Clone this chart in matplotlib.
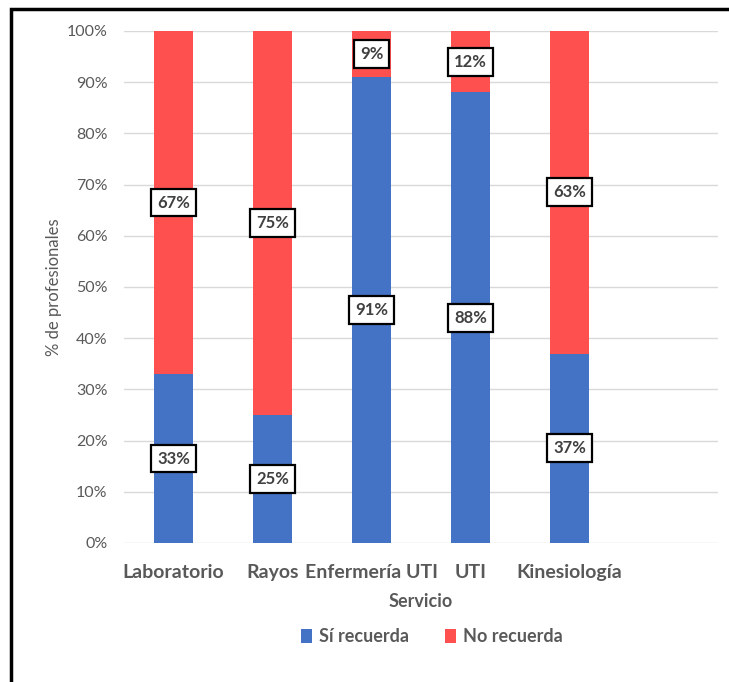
import numpy as np
import matplotlib.pyplot as plt
from matplotlib.patches import Rectangle

# data
servicios = ['Laboratorio', 'Rayos', 'Enfermería UTI', 'UTI', 'Kinesiología']
si_recuerda = [33, 25, 91, 88, 37]
no_recuerda = [67, 75, 9, 12, 63]

plt.rcParams['font.family'] = ['Lato', 'DejaVu Sans']

fig = plt.figure(figsize=(7.29, 6.82), dpi=100)
ax = fig.add_axes([124 / 729, 1 - 543 / 682, 594 / 729, 512 / 682])

x = np.arange(len(servicios))
si = np.array(si_recuerda)
no = np.array(no_recuerda)

ax.bar(x, si, width=0.4, color='#4472C4', label='Sí recuerda', zorder=2)
ax.bar(x, no, width=0.4, bottom=si, color='#FF5050', label='No recuerda', zorder=2)

# data labels in white boxes, centred in each segment
box = dict(boxstyle='square,pad=0.35', fc='white', ec='black', lw=1.6)
for i in range(len(servicios)):
    ax.text(x[i], si[i] / 2, f'{si[i]}%', ha='center', va='center',
            fontsize=12, fontweight='bold', color='#404040', bbox=box, zorder=3)
    ax.text(x[i], si[i] + no[i] / 2, f'{no[i]}%', ha='center', va='center',
            fontsize=12, fontweight='bold', color='#404040', bbox=box, zorder=3)

ax.set_xlim(-0.5, 5.5)
ax.set_ylim(0, 100)
ax.set_yticks(np.arange(0, 101, 10))
ax.set_yticklabels([f'{v}%' for v in range(0, 101, 10)])
ax.set_xticks(x)
ax.set_xticklabels(servicios, fontsize=14, fontweight='bold', color='#595959')
ax.tick_params(axis='y', length=0, labelsize=11.5, labelcolor='#595959', pad=12)
ax.tick_params(axis='x', length=0, pad=15)
ax.grid(axis='y', color='#D9D9D9', lw=1, zorder=0)
for s in ax.spines.values():
    s.set_visible(False)

ax.set_xlabel('Servicio', fontsize=13, fontweight='bold', color='#595959', labelpad=9)
ax.set_ylabel('% de profesionales', fontsize=12, color='#595959', labelpad=3)

leg = ax.legend(loc='center', bbox_to_anchor=(432 / 729, 1 - 637 / 682),
                bbox_transform=fig.transFigure, ncol=2, frameon=False,
                fontsize=13, handlelength=0.6, handleheight=0.8,
                handletextpad=0.4, columnspacing=2.0)
for t in leg.get_texts():
    t.set_color('#595959')
    t.set_fontweight('bold')

# outer frame (only left and top edges show in the reference)
fig.patches.append(Rectangle((11 / 729, -0.1), 1.2, 1 - 9 / 682 + 0.1,
                             transform=fig.transFigure, fill=False,
                             ec='black', lw=2.5))

plt.savefig('out.png', dpi=100)
